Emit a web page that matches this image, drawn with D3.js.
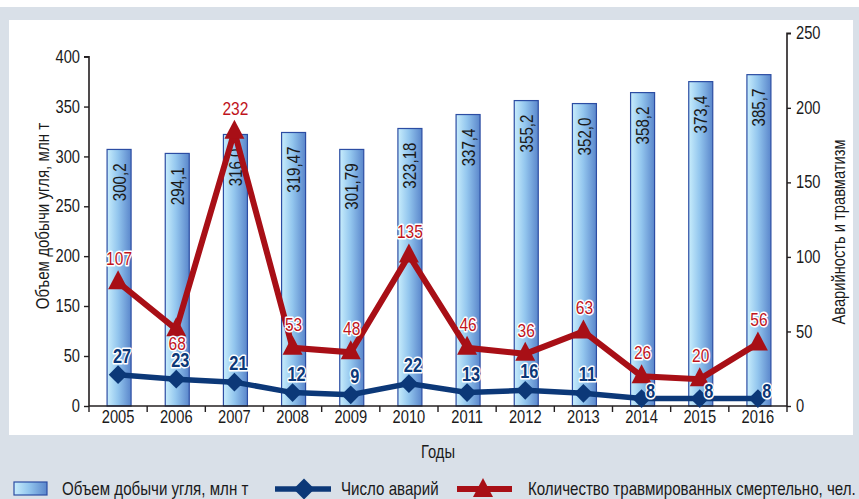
<!DOCTYPE html>
<html><head><meta charset="utf-8">
<script src="https://cdn.jsdelivr.net/npm/d3@7"></script>
<style>
html,body{margin:0;padding:0;background:#fff;}
svg{display:block;}
text{font-family:"Liberation Sans",Arial,sans-serif;}
</style></head><body>
<div id="chart"></div>
<script>
// ---- data ----
const years = ["2005","2006","2007","2008","2009","2010","2011","2012","2013","2014","2015","2016"];
// coal output (bar heights as drawn, read on the left axis)
const coalOutput = [307, 303, 322, 324, 307, 328, 342, 356, 353, 364, 375, 382];
const coalLabels = ["300,2","294,1","316,0","319,47","301,79","323,18","337,4","355,2","352,0","358,2","373,4","385,7"];
// accidents (line as drawn, right axis) and their labels
const accidents = [21, 18, 16, 9, 7.5, 15, 9, 10.5, 8.5, 5, 5, 5];
const accidentLabels = ["27","23","21","12","9","22","13","16","11","8","8","8"];
// fatalities (line as drawn, right axis) and their labels
const fatalities = [83, 51.5, 184, 39, 36, 101, 39, 35, 50, 20, 18, 42];
const fatalityLabels = ["107","68","232","53","48","135","46","36","63","26","20","56"];
// axis tick labels
const leftTicks = [0, 50, 150, 200, 250, 300, 350, 400];
const rightTicks = [0, 50, 100, 150, 200, 250];
const texts = {
  leftTitle: "Объем добычи угля, млн т",
  rightTitle: "Аварийность и травматизм",
  xTitle: "Годы",
  legendBars: "Объем добычи угля, млн т",
  legendAcc: "Число аварий",
  legendFat: "Количество травмированных смертельно, чел."
};

// ---- drawing ----
const W = 859, H = 499;
const S = 0.84; // horizontal condensing of the typeface
const svg = d3.select("#chart").append("svg").attr("width", W).attr("height", H);

const BLUE = "#0c3878", RED = "#a80f16", RED_TXT = "#c0141c", AXIS = "#231f20", TXT = "#1a1a1a";

function ctext(parent, str, x, y, rot, size, anchor) {
  return parent.append("text")
    .attr("transform", `translate(${x},${y})${rot ? ` rotate(${rot})` : ""} scale(${S},1)`)
    .attr("text-anchor", anchor || "start")
    .attr("font-size", size).attr("fill", TXT).text(str);
}

// backgrounds
svg.append("rect").attr("width", W).attr("height", H).attr("fill", "#fff");
svg.append("rect").attr("x", 0).attr("y", 7).attr("width", W).attr("height", H - 7).attr("fill", "#d9e0e8");
svg.append("rect").attr("x", 9).attr("y", 20).attr("width", 844).attr("height", 415).attr("fill", "#fff");

const defs = svg.append("defs");
const grad = defs.append("linearGradient").attr("id", "barGrad").attr("x1", 0).attr("x2", 1).attr("y1", 0).attr("y2", 0);
grad.append("stop").attr("offset", "0%").attr("stop-color", "#c8edfc");
grad.append("stop").attr("offset", "45%").attr("stop-color", "#93c6ee");
grad.append("stop").attr("offset", "100%").attr("stop-color", "#5a86cb");

const x0 = 89, x1 = 787, yBase = 406;
const x = d3.scaleBand().domain(years).range([x0, x1]).padding(0);
const yL = d3.scaleLinear().domain([0, 50, 150, 400]).range([yBase, 356, 306, 56.7]);
const yR = d3.scaleLinear().domain([0, 250]).range([yBase, 33.3]);
const cx = d => x(d) + x.bandwidth() / 2;

// bars
const bw = 24;
svg.append("g").selectAll("rect").data(years).join("rect")
  .attr("x", d => cx(d) - bw / 2 + 1)
  .attr("y", (d, i) => yL(coalOutput[i]))
  .attr("width", bw)
  .attr("height", (d, i) => yBase - yL(coalOutput[i]))
  .attr("fill", "url(#barGrad)")
  .attr("stroke", "#2c4da3").attr("stroke-width", 1.2);

// bar labels (rotated)
const gBL = svg.append("g");
years.forEach((yr, i) => {
  ctext(gBL, coalLabels[i], cx(yr) + 1 + 6.5, yL(coalOutput[i]) + 14, -90, 18, "end");
});

// axes
function condenseAxis(g) {
  g.selectAll(".tick text").each(function () {
    const t = d3.select(this);
    const xx = +t.attr("x") || 0, yy = +t.attr("y") || 0;
    t.attr("x", null).attr("y", null)
      .attr("transform", `translate(${xx},${yy}) scale(${S},1)`);
  });
}
const axL = svg.append("g").attr("transform", `translate(${x0},0)`)
  .call(d3.axisLeft(yL).tickValues(leftTicks).tickSize(5).tickPadding(4).tickFormat(d3.format("d")));
const axR = svg.append("g").attr("transform", `translate(${x1},0)`)
  .call(d3.axisRight(yR).tickValues(rightTicks).tickSize(4).tickPadding(5).tickFormat(d3.format("d")));
const axX = svg.append("g").attr("transform", `translate(0,${yBase})`)
  .call(d3.axisBottom(x).tickSize(0).tickPadding(5));
[axL, axR, axX].forEach(g => {
  g.select(".domain").attr("stroke", AXIS).attr("stroke-width", 1.6);
  g.selectAll(".tick line").attr("stroke", AXIS).attr("stroke-width", 1.4);
  g.selectAll("text").attr("font-size", 17.5).attr("fill", TXT)
    .style("font-family", '"Liberation Sans",Arial,sans-serif');
  condenseAxis(g);
});
axX.select(".domain").attr("d", `M${x0},0H${x1}`);
axL.select(".domain").attr("d", `M-5,${yL(400)}H0V${yBase}`);
axR.select(".domain").attr("d", `M4,${yR(250)}H0V${yBase}`);
// x-axis ticks at band boundaries
svg.append("g").selectAll("line").data(years.concat(["end"])).join("line")
  .attr("x1", (d, i) => x0 + i * x.bandwidth()).attr("x2", (d, i) => x0 + i * x.bandwidth())
  .attr("y1", yBase).attr("y2", yBase + 6)
  .attr("stroke", AXIS).attr("stroke-width", 1.4);

// marker shapes
const triPath = "M0,-12L10,7L-10,7Z";
const diamond = d3.symbol().type(d3.symbolSquare).size(175);

// lines
const fatLine = d3.line().x((d, i) => cx(years[i])).y(d => yR(d));
svg.append("path").datum(fatalities).attr("d", fatLine)
  .attr("fill", "none").attr("stroke", RED).attr("stroke-width", 6).attr("stroke-linejoin", "miter");
svg.append("g").selectAll("path").data(fatalities).join("path")
  .attr("transform", (d, i) => `translate(${cx(years[i])},${yR(d)})`)
  .attr("d", triPath).attr("fill", RED);

const accLine = d3.line().x((d, i) => cx(years[i])).y(d => yR(d));
svg.append("path").datum(accidents).attr("d", accLine)
  .attr("fill", "none").attr("stroke", BLUE).attr("stroke-width", 5.5);
svg.append("g").selectAll("path").data(accidents).join("path")
  .attr("transform", (d, i) => `translate(${cx(years[i])},${yR(d)}) rotate(45)`)
  .attr("d", diamond).attr("fill", BLUE);

// value labels
const belowRed = new Set(["2006"]);
const gRL = svg.append("g");
fatalities.forEach((v, i) => {
  ctext(gRL, fatalityLabels[i], cx(years[i]) + 1, yR(v) + (belowRed.has(years[i]) ? 21 : -17), 0, 18.5, "middle")
    .attr("fill", RED_TXT).attr("stroke", "#fff").attr("stroke-width", 3)
    .attr("paint-order", "stroke").attr("stroke-linejoin", "round");
});

const sideBlue = new Set(["2014","2015","2016"]);
const gAL = svg.append("g");
accidents.forEach((v, i) => {
  const side = sideBlue.has(years[i]);
  ctext(gAL, accidentLabels[i], cx(years[i]) + (side ? 9 : 4), yR(v) + (side ? -1 : -12), 0, 19.5, "middle")
    .attr("font-weight", "bold")
    .attr("fill", BLUE).attr("stroke", "#fff").attr("stroke-width", 3)
    .attr("paint-order", "stroke").attr("stroke-linejoin", "round");
});

// axis titles
ctext(svg, texts.leftTitle, 49, 216, -90, 18, "middle");
ctext(svg, texts.rightTitle, 845, 232, -90, 17.5, "middle");
ctext(svg, texts.xTitle, 438, 458, 0, 17.5, "middle");

// legend
const lg = svg.append("g");
lg.append("rect").attr("x", 14).attr("y", 482).attr("width", 33).attr("height", 13)
  .attr("fill", "url(#barGrad)").attr("stroke", "#2c4da3").attr("stroke-width", 1.2);
ctext(lg, texts.legendBars, 62, 495, 0, 18);
lg.append("line").attr("x1", 275).attr("x2", 331).attr("y1", 489).attr("y2", 489).attr("stroke", BLUE).attr("stroke-width", 5.5);
lg.append("path").attr("transform", "translate(304,489) rotate(45)").attr("d", d3.symbol().type(d3.symbolSquare).size(220)).attr("fill", BLUE);
ctext(lg, texts.legendAcc, 341, 495, 0, 18);
lg.append("line").attr("x1", 457).attr("x2", 512).attr("y1", 489).attr("y2", 489).attr("stroke", RED).attr("stroke-width", 6);
lg.append("path").attr("transform", "translate(483,490)").attr("d", triPath).attr("fill", RED);
ctext(lg, texts.legendFat, 528, 495, 0, 18);
</script>
</body></html>
